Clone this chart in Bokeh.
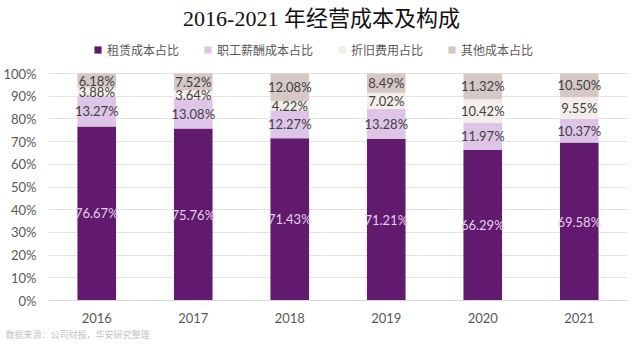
from bokeh.plotting import figure
from bokeh.models import (ColumnDataSource, FactorRange, FixedTicker, Range1d, Title, Label,
                          LabelSet, Legend, LegendItem, CustomJSTickFormatter)
from bokeh.embed import file_html
from bokeh.resources import INLINE
from bokeh.core.properties import value

years = ["2016", "2017", "2018", "2019", "2020", "2021"]
rent = [76.67, 75.76, 71.43, 71.21, 66.29, 69.58]
salary = [13.27, 13.08, 12.27, 13.28, 11.97, 10.37]
depreciation = [3.88, 3.64, 4.22, 7.02, 10.42, 9.55]
other = [6.18, 7.52, 12.08, 8.49, 11.32, 10.50]
series_names = ["租赁成本占比", "职工薪酬成本占比", "折旧费用占比", "其他成本占比"]
colors = ["#621A6E", "#DEC5E8", "#F3EFE8", "#D5C8C5"]
y_ticks = [0, 10, 20, 30, 40, 50, 60, 70, 80, 90, 100]

title_text = "2016-2021 年经营成本及构成"
source_text = "数据来源：公司财报，华安研究整理"

W, H = 640, 354
left, right, bottom = 40, 13, 54
frame_h = H - bottom              # frame spans full height above the x axis
plot_h = 227                      # pixels from 0% to 100%
y_max = 100.0 * frame_h / plot_h  # headroom holds title and legend

keys = ["rent", "salary", "depreciation", "other"]
src = ColumnDataSource(dict(years=years, rent=rent, salary=salary,
                            depreciation=depreciation, other=other))

p = figure(width=W, height=H, x_range=FactorRange(*years, range_padding=0.0),
           y_range=Range1d(0, y_max), output_backend="svg", toolbar_location=None,
           min_border_left=left, min_border_right=right, min_border_top=0,
           min_border_bottom=bottom, outline_line_color=None)

renderers = p.vbar_stack(keys, x="years", width=0.40, color=colors, line_color=None,
                         source=src)

# segment labels
series = [rent, salary, depreciation, other]
lx, ly, lt, lc = [], [], [], []
for i, y in enumerate(years):
    base = 0.0
    for k, s in enumerate(series):
        v = s[i]
        lx.append(y)
        ly.append(base + v / 2.0)
        lt.append(f"{v:.2f}%")
        lc.append("#E2D0EA" if k == 0 else "#404040")
        base += v
lsrc = ColumnDataSource(dict(x=lx, y=ly, t=lt, c=lc))
p.add_layout(LabelSet(x="x", y="y", text="t", source=lsrc, text_color="c",
                      text_align="center", text_baseline="middle",
                      text_font=value("Lato"), text_font_size="13px"))

# axes
p.yaxis.ticker = FixedTicker(ticks=y_ticks)
p.yaxis.formatter = CustomJSTickFormatter(code="return tick + '%';")
p.yaxis.axis_line_color = None
p.yaxis.major_tick_line_color = None
p.yaxis.minor_tick_line_color = None
p.yaxis.major_label_text_color = "#595959"
p.yaxis.major_label_text_font = "Lato"
p.yaxis.major_label_text_font_size = "13px"
p.yaxis.major_label_standoff = 6

p.xaxis.axis_line_color = "#D9D9D9"
p.xaxis.major_tick_line_color = None
p.xaxis.minor_tick_line_color = None
p.xaxis.major_label_text_color = "#595959"
p.xaxis.major_label_text_font = "Lato"
p.xaxis.major_label_text_font_size = "13px"
p.xaxis.major_label_standoff = 6

p.xgrid.grid_line_color = None
p.ygrid.grid_line_color = "#E3E3E3"
p.ygrid.grid_line_width = 1

# title (inside the headroom of the frame)
p.add_layout(Label(x=313 - left, y=frame_h - 18, x_units="screen", y_units="screen",
                   text=title_text, text_align="center", text_baseline="middle",
                   text_font="Liberation Serif, Noto Sans CJK SC",
                   text_font_size="22px", text_color="#111111"))

# legend
items = [LegendItem(label=n, renderers=[r]) for n, r in zip(series_names, renderers)]
legend = Legend(items=items, orientation="horizontal", location=(45, frame_h - 58),
                label_text_font="Noto Sans CJK SC", label_text_font_size="12px",
                label_text_color="#595959", glyph_width=9, glyph_height=9,
                spacing=24, label_standoff=5, border_line_color=None,
                background_fill_alpha=0, padding=0, margin=0, label_height=16)
p.add_layout(legend, "center")

# source note
p.add_layout(Title(text=source_text, align="left", text_font="Noto Sans CJK SC",
                   text_font_size="9px", text_font_style="normal",
                   text_color="#C4C4C4", offset=-43, standoff=0), "below")

open("out.html", "w").write(file_html(p, INLINE))
